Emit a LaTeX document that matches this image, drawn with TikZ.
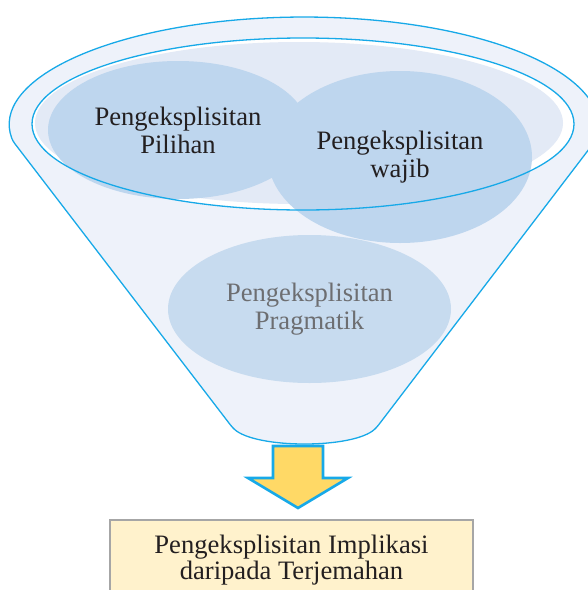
\documentclass[tikz,border=0pt]{standalone}
\usepackage{fontspec}
\setmainfont{Liberation Serif}
\usepackage{xcolor}
\usepackage{tikz}
\usetikzlibrary{positioning,shapes.geometric}

\definecolor{rimline}{HTML}{17A9E8}
\definecolor{funnelfill}{HTML}{EEF2FA}
\definecolor{ringfill}{HTML}{E3EAF6}
\definecolor{bubble}{HTML}{BED6EE}
\definecolor{bubblelight}{HTML}{C7DBEF}
\definecolor{arrowfill}{HTML}{FFD966}
\definecolor{boxfill}{HTML}{FFF2CC}
\definecolor{boxline}{HTML}{A6A6A6}
\definecolor{ink}{HTML}{231F20}
\definecolor{inkgray}{HTML}{6D6E71}

\begin{document}
\begin{tikzpicture}[
  x=1pt, y=-1pt,
  idea/.style={ellipse, fill=bubble, inner sep=0pt, align=center, text=ink,
               font=\fontsize{26.6}{28}\selectfont},
  rim/.style={draw=rimline, line width=1.3pt},
  blockarrow/.style={draw=rimline, line width=2.6pt, fill=arrowfill, line join=miter},
  result/.style={draw=boxline, line width=1.8pt, fill=boxfill, align=center,
                 text=ink, minimum width=363pt, inner xsep=0pt, inner ysep=15pt,
                 font=\fontsize{26.6}{26}\selectfont}
]
\useasboundingbox (0,0) rectangle (588,590);
\clip (0,0) rectangle (588,590);

% funnel body
\draw[rim, fill=funnelfill, rounded corners=3pt] (12.8,141)
  arc[start angle=187.9, end angle=-7.9, x radius=294pt, y radius=109pt]
  -- (377,427) .. controls (354,449) and (255,449) .. (232,427) -- cycle;
\fill[white] (303,124) ellipse [x radius=271pt, y radius=86pt];
\fill[ringfill] (299,123) ellipse [x radius=264pt, y radius=81pt];

\node[idea, fill=bubblelight, text=inkgray, minimum width=283pt, minimum height=148pt]
  (pragmatik) at (309.5,309) {Pengeksplisitan\\Pragmatik};
\node[idea, minimum width=260pt, minimum height=138pt] (pilihan) at (178,130)
  {Pengeksplisitan\\Pilihan};
\node[idea, minimum width=264pt, minimum height=172pt] (wajib) at (400,157)
  {Pengeksplisitan\\wajib};

\draw[rim] (303,124) ellipse [x radius=271pt, y radius=86pt];

% arrow and result
\coordinate (spout) at (298,446);
\draw[blockarrow] (spout) ++(-25,0) -- ++(0,32) -- ++(-25,0) -- ++(50,30)
  -- ++(50,-30) -- ++(-25,0) -- ++(0,-32) -- cycle;
\node[result, anchor=north] (implikasi) at (291.5,519)
  {Pengeksplisitan Implikasi\\daripada Terjemahan};
\end{tikzpicture}
\end{document}
